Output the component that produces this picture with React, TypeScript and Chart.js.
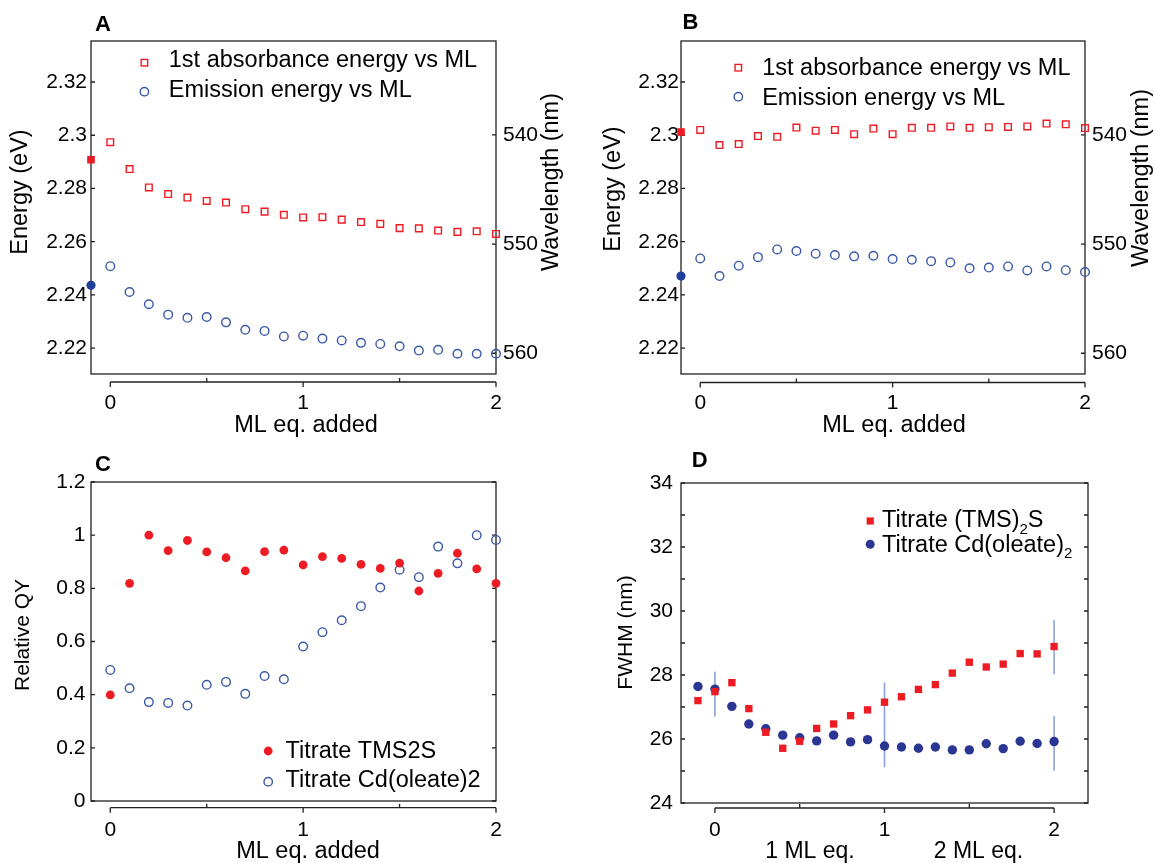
import React, { useEffect, useRef } from "react";
import { Chart, registerables } from "chart.js";

Chart.register(...registerables);

const FONT = "'Liberation Sans', Arial, Helvetica, sans-serif";
Chart.defaults.font.family = FONT;

const RED = "#ed1c24";
const BLUE_OPEN = "#3b58a8";
const BLUE_FILL = "#1f3f9a";
const NAVY = "#2b3592";
const ERR = "rgba(125,145,210,0.85)";
const INK = "#231f20";

// ---------- shared x values ----------
const mlEq = [0, 0.1, 0.2, 0.3, 0.4, 0.5, 0.6, 0.7, 0.8, 0.9, 1.0, 1.1, 1.2, 1.3, 1.4, 1.5, 1.6, 1.7, 1.8, 1.9, 2.0];
const initialX = -0.1;
const mlTicks = [0, 0.5, 1, 1.5, 2];

// ---------- panel A ----------
const absA0 = 2.2908;
const absA = [2.2974, 2.2873, 2.2804, 2.2779, 2.2766, 2.2753, 2.2747, 2.2722, 2.2713, 2.2701, 2.2691, 2.2692, 2.2683, 2.2674, 2.2667, 2.2651, 2.265, 2.2642, 2.2637, 2.2639, 2.2629];
const emA0 = 2.2436;
const emA = [2.2508, 2.2411, 2.2365, 2.2326, 2.2314, 2.2317, 2.2297, 2.2269, 2.2265, 2.2244, 2.2247, 2.2236, 2.2229, 2.222, 2.2216, 2.2207, 2.2191, 2.2194, 2.2179, 2.2179, 2.2179];

// ---------- panel B ----------
const absB0 = 2.3012;
const absB = [2.302, 2.2963, 2.2967, 2.2997, 2.2994, 2.3029, 2.3017, 2.302, 2.3004, 2.3025, 2.3004, 2.3028, 2.3028, 2.3033, 2.3028, 2.303, 2.3031, 2.3033, 2.3044, 2.3041, 2.3027];
const emB0 = 2.2471;
const emB = [2.2537, 2.2471, 2.251, 2.2542, 2.2571, 2.2565, 2.2555, 2.255, 2.2545, 2.2547, 2.2535, 2.2532, 2.2527, 2.2522, 2.25, 2.2503, 2.2507, 2.2492, 2.2507, 2.2493, 2.2486];

const energyTicks = [2.22, 2.24, 2.26, 2.28, 2.3, 2.32];
const wavelengthTicks = [540, 550, 560];

// ---------- panel C ----------
const qyTMS = [0.399, 0.819, 1.0, 0.942, 0.98, 0.937, 0.915, 0.866, 0.938, 0.944, 0.888, 0.919, 0.913, 0.89, 0.875, 0.895, 0.79, 0.856, 0.932, 0.873, 0.819];
const qyCd = [0.493, 0.424, 0.372, 0.369, 0.359, 0.437, 0.448, 0.403, 0.47, 0.458, 0.581, 0.635, 0.68, 0.733, 0.803, 0.87, 0.842, 0.957, 0.894, 1.0, 0.982];
const qyTicks = [0, 0.2, 0.4, 0.6, 0.8, 1, 1.2];

// ---------- panel D ----------
const mlEqD = [-0.1, 0, 0.1, 0.2, 0.3, 0.4, 0.5, 0.6, 0.7, 0.8, 0.9, 1.0, 1.1, 1.2, 1.3, 1.4, 1.5, 1.6, 1.7, 1.8, 1.9, 2.0];
const fwhmTMS = [27.2, 27.48, 27.76, 26.95, 26.21, 25.71, 25.93, 26.33, 26.47, 26.73, 26.91, 27.15, 27.32, 27.55, 27.7, 28.06, 28.4, 28.25, 28.34, 28.67, 28.66, 28.89];
const fwhmCd = [27.64, 27.56, 27.02, 26.47, 26.32, 26.12, 26.04, 25.94, 26.12, 25.91, 25.98, 25.78, 25.75, 25.71, 25.75, 25.66, 25.66, 25.85, 25.7, 25.93, 25.86, 25.92];
const errX = [0, 1, 2, 2];
const errLow = [26.7, 25.12, 28.02, 25.01];
const errHigh = [28.1, 27.77, 29.71, 26.72];
const fwhmTicks = [24, 25, 26, 27, 28, 29, 30, 31, 32, 33, 34];

const pts = (xs: number[], ys: number[]) => xs.map((x, i) => ({ x, y: ys[i] }));

type Part = { t: string; sub?: boolean };
type LegendItem = {
  parts: Part[];
  marker: "rect" | "circle";
  filled: boolean;
  color: string;
  mx: number;
  my: number;
  size: number;
  tx: number;
  ty: number;
};
type Decor = {
  letter: { text: string; x: number; y: number };
  titles: { text: string; x: number; y: number; rot?: boolean; size: number }[];
  legend: LegendItem[];
  axisGap: number;
  rightTicks: string;
};

function decorPlugin(d: Decor) {
  return {
    id: "decor",
    beforeDatasetsDraw(chart: any) {
      const { ctx, chartArea: a } = chart;
      const x = chart.scales.x;
      const y = chart.scales.y;
      const r = chart.scales[d.rightTicks];
      ctx.save();
      ctx.strokeStyle = INK;
      ctx.lineWidth = 1.3;
      ctx.strokeRect(a.left, a.top, a.right - a.left, a.bottom - a.top);
      ctx.beginPath();
      for (const t of y.ticks) {
        const py = y.getPixelForValue(t.value);
        ctx.moveTo(a.left, py);
        ctx.lineTo(a.left + 4, py);
      }
      for (const t of r.ticks) {
        const py = r.getPixelForValue(t.value);
        ctx.moveTo(a.right, py);
        ctx.lineTo(a.right - 4, py);
      }
      const ay = a.bottom + d.axisGap;
      const x0 = x.getPixelForValue(x.ticks[0].value);
      const x1 = x.getPixelForValue(x.ticks[x.ticks.length - 1].value);
      ctx.moveTo(x0, ay);
      ctx.lineTo(x1, ay);
      for (const t of x.ticks) {
        const px = x.getPixelForValue(t.value);
        if (Number.isInteger(t.value)) {
          ctx.moveTo(px, ay);
          ctx.lineTo(px, ay + 5);
        } else {
          ctx.moveTo(px, ay);
          ctx.lineTo(px, ay - 4);
        }
      }
      ctx.stroke();
      ctx.restore();
    },
    afterDraw(chart: any) {
      const ctx: CanvasRenderingContext2D = chart.ctx;
      ctx.save();
      ctx.fillStyle = "#000";
      // panel letter
      ctx.font = `bold 22px ${FONT}`;
      ctx.textAlign = "center";
      ctx.textBaseline = "middle";
      ctx.fillText(d.letter.text, d.letter.x, d.letter.y);
      // axis titles
      for (const t of d.titles) {
        ctx.font = `${t.size}px ${FONT}`;
        ctx.textAlign = "center";
        ctx.textBaseline = "middle";
        if (t.rot) {
          ctx.save();
          ctx.translate(t.x, t.y);
          ctx.rotate(-Math.PI / 2);
          ctx.fillText(t.text, 0, 0);
          ctx.restore();
        } else {
          ctx.fillText(t.text, t.x, t.y);
        }
      }
      // legend
      for (const it of d.legend) {
        ctx.lineWidth = 1.4;
        ctx.strokeStyle = it.color;
        ctx.fillStyle = it.color;
        if (it.marker === "rect") {
          const s = it.size;
          if (it.filled) ctx.fillRect(it.mx - s / 2, it.my - s / 2, s, s);
          else ctx.strokeRect(it.mx - s / 2, it.my - s / 2, s, s);
        } else {
          ctx.beginPath();
          ctx.arc(it.mx, it.my, it.size / 2, 0, Math.PI * 2);
          if (it.filled) ctx.fill();
          else ctx.stroke();
        }
        ctx.fillStyle = "#000";
        ctx.textAlign = "left";
        ctx.textBaseline = "middle";
        let cx = it.tx;
        for (const p of it.parts) {
          if (p.sub) {
            ctx.font = `15px ${FONT}`;
            ctx.fillText(p.t, cx, it.ty + 9);
          } else {
            ctx.font = `23.5px ${FONT}`;
            ctx.fillText(p.t, cx, it.ty);
          }
          cx += ctx.measureText(p.t).width;
        }
      }
      ctx.restore();
    },
  };
}

function xScale(min: number, max: number, pad: number, height: number) {
  return {
    type: "linear",
    position: "bottom",
    min,
    max,
    grid: { display: false, drawTicks: false, tickLength: 0 },
    border: { display: false },
    afterBuildTicks: (s: any) => {
      s.ticks = mlTicks.map((v) => ({ value: v }));
    },
    ticks: {
      autoSkip: false,
      maxRotation: 0,
      padding: pad,
      color: "#000",
      font: { size: 21, family: FONT },
      callback: (v: any) => (Number.isInteger(v) ? String(v) : ""),
    },
    afterFit: (s: any) => {
      s.height = height;
    },
  };
}

function yScale(
  position: string,
  min: number,
  max: number,
  tickVals: number[],
  pad: number,
  width: number,
  label: (v: number) => string,
  reverse = false
) {
  return {
    type: "linear",
    position,
    min,
    max,
    reverse,
    grid: { display: false, drawTicks: false, tickLength: 0 },
    border: { display: false },
    afterBuildTicks: (s: any) => {
      s.ticks = tickVals.map((v) => ({ value: v }));
    },
    ticks: {
      autoSkip: false,
      padding: pad,
      color: "#000",
      font: { size: 21, family: FONT },
      callback: (v: any) => label(v),
    },
    afterFit: (s: any) => {
      s.width = width;
    },
  };
}

const openPt = (color: string, style: string, r: number) => ({
  pointStyle: style,
  pointRadius: r,
  pointHoverRadius: r,
  pointBorderWidth: 1.4,
  pointBorderColor: color,
  pointBackgroundColor: "rgba(0,0,0,0)",
  showLine: false,
  clip: false,
});
const fillPt = (color: string, style: string, r: number) => ({
  pointStyle: style,
  pointRadius: r,
  pointHoverRadius: r,
  pointBorderWidth: 0,
  pointBorderColor: color,
  pointBackgroundColor: color,
  showLine: false,
  clip: false,
});

const baseOptions = (scales: any, padding: any) => ({
  responsive: false,
  animation: false,
  events: [],
  layout: { padding },
  plugins: { legend: { display: false }, tooltip: { enabled: false } },
  scales,
});

function energyConfig(abs0: number, abs: number[], em0: number, em: number[], left: number, yPad: number, rightW: number, decor: Decor) {
  return {
    type: "scatter",
    data: {
      datasets: [
        { data: [{ x: initialX, y: abs0 }], ...fillPt(RED, "rect", 5.4) },
        { data: [{ x: initialX, y: em0 }], ...fillPt(BLUE_FILL, "circle", 4.6) },
        { data: pts(mlEq, abs), ...openPt(RED, "rect", 4.7) },
        { data: pts(mlEq, em), ...openPt(BLUE_OPEN, "circle", 4.3) },
      ],
    },
    options: baseOptions(
      {
        x: xScale(-0.1, 2, 16.4, 66),
        y: yScale("left", 2.2103, 2.3354, energyTicks, yPad, left, (v) => String(v)),
        y2: yScale("right", 531.4, 561.9, wavelengthTicks, 7, rightW, (v) => String(v), true),
      },
      { top: 41, left: 0, right: 0, bottom: 0 }
    ),
    plugins: [decorPlugin(decor)],
  };
}

const configA = () =>
  energyConfig(absA0, absA, emA0, emA, 91, 4, 82, {
    letter: { text: "A", x: 103, y: 25 },
    titles: [
      { text: "Energy (eV)", x: 21, y: 192, rot: true, size: 23.5 },
      { text: "Wavelength (nm)", x: 552, y: 182, rot: true, size: 23.5 },
      { text: "ML eq. added", x: 306, y: 426, size: 23.5 },
    ],
    legend: [
      { parts: [{ t: "1st absorbance energy vs ML" }], marker: "rect", filled: false, color: RED, mx: 144.4, my: 62.7, size: 6.5, tx: 168.8, ty: 61 },
      { parts: [{ t: "Emission energy vs ML" }], marker: "circle", filled: false, color: BLUE_OPEN, mx: 144.4, my: 91.7, size: 8.4, tx: 168.8, ty: 90.5 },
    ],
    axisGap: 8,
    rightTicks: "y2",
  });

const configB = () =>
  energyConfig(absB0, absB, emB0, emB, 103, 2, 71, {
    letter: { text: "B", x: 112.4, y: 23.3 },
    titles: [
      { text: "Energy (eV)", x: 36, y: 189, rot: true, size: 23.5 },
      { text: "Wavelength (nm)", x: 564, y: 178, rot: true, size: 23.5 },
      { text: "ML eq. added", x: 316, y: 426, size: 23.5 },
    ],
    legend: [
      { parts: [{ t: "1st absorbance energy vs ML" }], marker: "rect", filled: false, color: RED, mx: 160.3, my: 67.7, size: 6.5, tx: 184.2, ty: 69 },
      { parts: [{ t: "Emission energy vs ML" }], marker: "circle", filled: false, color: BLUE_OPEN, mx: 160.3, my: 96.7, size: 8.4, tx: 184.2, ty: 98.7 },
    ],
    axisGap: 8.5,
    rightTicks: "y2",
  });

const configC = () => ({
  type: "scatter",
  data: {
    datasets: [
      { data: pts(mlEq, qyTMS), ...fillPt(RED, "circle", 4.4) },
      { data: pts(mlEq, qyCd), ...openPt(BLUE_OPEN, "circle", 4.3) },
    ],
  },
  options: baseOptions(
    {
      x: xScale(-0.1, 2, 16.4, 62),
      y: yScale("left", 0, 1.2, qyTicks, 5.5, 91, (v) => String(v)),
    },
    { top: 42, left: 0, right: 82, bottom: 0 }
  ),
  plugins: [
    decorPlugin({
      letter: { text: "C", x: 103, y: 25 },
      titles: [
        { text: "Relative QY", x: 23, y: 195, rot: true, size: 21 },
        { text: "ML eq. added", x: 308, y: 412, size: 23.5 },
      ],
      legend: [
        { parts: [{ t: "Titrate TMS2S" }], marker: "circle", filled: true, color: RED, mx: 268.2, my: 311, size: 8.8, tx: 285.6, ty: 311.3 },
        { parts: [{ t: "Titrate Cd(oleate)2" }], marker: "circle", filled: false, color: BLUE_OPEN, mx: 268.2, my: 341.7, size: 8.4, tx: 285.6, ty: 341 },
      ],
      axisGap: 6.7,
      rightTicks: "y",
    }),
  ],
});

const configD = () => ({
  type: "scatter",
  data: {
    datasets: [
      { data: pts(mlEqD, fwhmTMS), ...fillPt(RED, "rect", 5.2) },
      { data: pts(mlEqD, fwhmCd), ...fillPt(NAVY, "circle", 4.7) },
      ...errX.map((x, i) => ({
        data: [
          { x, y: errLow[i] },
          { x, y: errHigh[i] },
        ],
        showLine: true,
        borderColor: ERR,
        borderWidth: 1.6,
        pointRadius: 0,
        pointHoverRadius: 0,
        clip: false,
      })),
    ],
  },
  options: baseOptions(
    {
      x: xScale(-0.2, 2.2, 14.4, 60),
      y: yScale("left", 24, 34, fwhmTicks, 8, 103, (v) => (v % 2 === 0 ? String(v) : "")),
    },
    { top: 43, left: 0, right: 68, bottom: 0 }
  ),
  plugins: [
    decorPlugin({
      letter: { text: "D", x: 121.6, y: 20.7 },
      titles: [
        { text: "FWHM (nm)", x: 48, y: 192.5, rot: true, size: 21 },
        { text: "1 ML eq.", x: 232, y: 412, size: 23 },
        { text: "2 ML eq.", x: 400.5, y: 412, size: 23 },
      ],
      legend: [
        { parts: [{ t: "Titrate (TMS)" }, { t: "2", sub: true }, { t: "S" }], marker: "rect", filled: true, color: RED, mx: 292.2, my: 81, size: 7.2, tx: 304, ty: 81 },
        { parts: [{ t: "Titrate Cd(oleate)" }, { t: "2", sub: true }], marker: "circle", filled: true, color: NAVY, mx: 292.2, my: 104.3, size: 9, tx: 304, ty: 105.3 },
      ],
      axisGap: 5,
      rightTicks: "y",
    }),
  ],
});

function Panel({ left, top, width, height, make }: { left: number; top: number; width: number; height: number; make: () => any }) {
  const ref = useRef<HTMLCanvasElement | null>(null);
  useEffect(() => {
    if (!ref.current) return;
    const chart = new Chart(ref.current, make());
    return () => chart.destroy();
  }, [make]);
  return (
    <canvas
      ref={ref}
      width={width}
      height={height}
      style={{ position: "absolute", left, top, width, height }}
    />
  );
}

export default function App() {
  return (
    <div style={{ position: "absolute", left: 0, top: 0, width: 1156, height: 863, background: "#fff", overflow: "hidden" }}>
      <Panel left={0} top={0} width={578} height={440} make={configA} />
      <Panel left={578} top={0} width={578} height={440} make={configB} />
      <Panel left={0} top={440} width={578} height={423} make={configC} />
      <Panel left={578} top={440} width={578} height={423} make={configD} />
    </div>
  );
}
